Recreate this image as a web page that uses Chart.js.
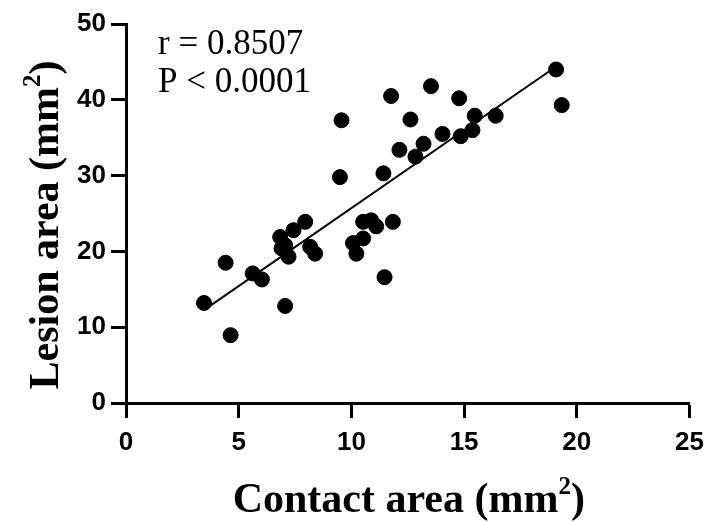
<!DOCTYPE html>
<html>
<head>
<meta charset="utf-8">
<script src="https://cdn.jsdelivr.net/npm/chart.js@4"></script>
<style>
  html, body { margin: 0; padding: 0; background: #fff; }
  #wrap { width: 713px; height: 522px; position: relative; }
</style>
</head>
<body>
<div id="wrap"><canvas id="chart"></canvas></div>
<script>
// Lesion area vs contact area scatter with regression line

const contactArea = [3.46, 4.42, 4.64, 5.62, 6.03, 7.06, 6.84, 7.43, 7.95, 7.06, 6.9, 7.21, 8.17, 8.39,
  9.56, 9.49, 10.07, 10.22, 10.52, 10.52, 10.88, 11.1, 11.84, 11.42, 11.47, 11.76,
  12.13, 12.62, 12.84, 13.2, 13.53, 14.04, 14.78, 14.85, 15.37, 15.47, 16.4, 19.08, 19.33];
const lesionArea = [13.2, 18.5, 8.95, 17.1, 16.3, 12.8, 21.9, 22.8, 23.9, 20.8, 20.4, 19.3, 20.6, 19.7,
  37.3, 29.8, 21.1, 19.7, 21.7, 23.9, 24.1, 23.3, 23.9, 30.3, 16.6, 40.5,
  33.4, 37.4, 32.5, 34.2, 41.8, 35.5, 40.2, 35.2, 36.0, 37.9, 37.9, 44.0, 39.3];

// fitted line endpoints
const fitX = [3.6, 19.26];
const fitY = [12.55, 44.75];

const xTicks = [0, 5, 10, 15, 20, 25];
const yTicks = [0, 10, 20, 30, 40, 50];
const statsText = ["r = 0.8507", "P < 0.0001"];
// axis titles: [before superscript, superscript, after]
const xTitle = ["Contact area (mm", "2", ")"];
const yTitle = ["Lesion area (mm", "2", ")"];

const points = contactArea.map((x, i) => ({ x: x, y: lesionArea[i] }));
const fitLine = fitX.map((x, i) => ({ x: x, y: fitY[i] }));

const SERIF = "'Liberation Serif', 'Times New Roman', serif";

// draws "text(mm^2)" centred on 0,0 of the current transform, baseline at y=0
function drawSupTitle(ctx, parts, size) {
  const main = "bold " + size + "px " + SERIF;
  const sup = "bold " + Math.round(size * 0.6) + "px " + SERIF;
  ctx.font = main;
  const w1 = ctx.measureText(parts[0]).width;
  const w3 = ctx.measureText(parts[2]).width;
  ctx.font = sup;
  const w2 = ctx.measureText(parts[1]).width;
  let x = -(w1 + w2 + w3) / 2;
  ctx.font = main;
  ctx.fillText(parts[0], x, 0);
  x += w1;
  ctx.font = sup;
  ctx.fillText(parts[1], x, -size * 0.42);
  x += w2;
  ctx.font = main;
  ctx.fillText(parts[2], x, 0);
}

const labels = {
  id: "labels",
  afterDraw(chart) {
    const ctx = chart.ctx;
    const area = chart.chartArea;
    ctx.save();
    ctx.fillStyle = "#000";
    ctx.textBaseline = "alphabetic";
    ctx.textAlign = "left";

    ctx.font = "35px " + SERIF;
    ctx.fillText(statsText[0], 158, 54);
    ctx.fillText(statsText[1], 158, 92);

    ctx.save();
    ctx.translate((area.left + area.right) / 2 + 1, 512);
    drawSupTitle(ctx, xTitle, 42);
    ctx.restore();

    ctx.save();
    ctx.translate(58, 225);
    ctx.rotate(-Math.PI / 2);
    drawSupTitle(ctx, yTitle, 42);
    ctx.restore();

    ctx.restore();
  }
};

const tickFont = { family: "'Liberation Sans', Arial, sans-serif", size: 26, weight: "bold" };

new Chart(document.getElementById("chart"), {
  type: "scatter",
  data: {
    datasets: [
      {
        label: "Fit",
        type: "line",
        data: fitLine,
        borderColor: "#000",
        borderWidth: 2,
        pointRadius: 0,
        fill: false,
        order: 2
      },
      {
        label: "Data",
        data: points,
        backgroundColor: "#000",
        borderColor: "#000",
        pointRadius: 7.5,
        pointHoverRadius: 7.5,
        order: 1
      }
    ]
  },
  options: {
    responsive: true,
    maintainAspectRatio: false,
    animation: false,
    layout: { padding: { top: 24, right: 19, left: 0, bottom: 0 } },
    plugins: { legend: { display: false }, tooltip: { enabled: false } },
    scales: {
      x: {
        type: "linear",
        min: 0,
        max: 25,
        afterBuildTicks: (s) => { s.ticks = xTicks.map(v => ({ value: v })); },
        afterFit: (s) => { s.height = 119; },
        border: { color: "#000", width: 3 },
        grid: { drawOnChartArea: false, drawTicks: true, tickLength: 15, tickWidth: 3, tickColor: "#000" },
        ticks: { color: "#000", font: tickFont, padding: 9, maxRotation: 0 },
        title: { display: false }
      },
      y: {
        type: "linear",
        min: 0,
        max: 50,
        afterBuildTicks: (s) => { s.ticks = yTicks.map(v => ({ value: v })); },
        afterFit: (s) => { s.width = 126; },
        border: { color: "#000", width: 3 },
        grid: { drawOnChartArea: false, drawTicks: true, tickLength: 15, tickWidth: 3, tickColor: "#000" },
        ticks: { color: "#000", font: tickFont, padding: 5 },
        title: { display: false }
      }
    }
  },
  plugins: [labels]
});
</script>
</body>
</html>
